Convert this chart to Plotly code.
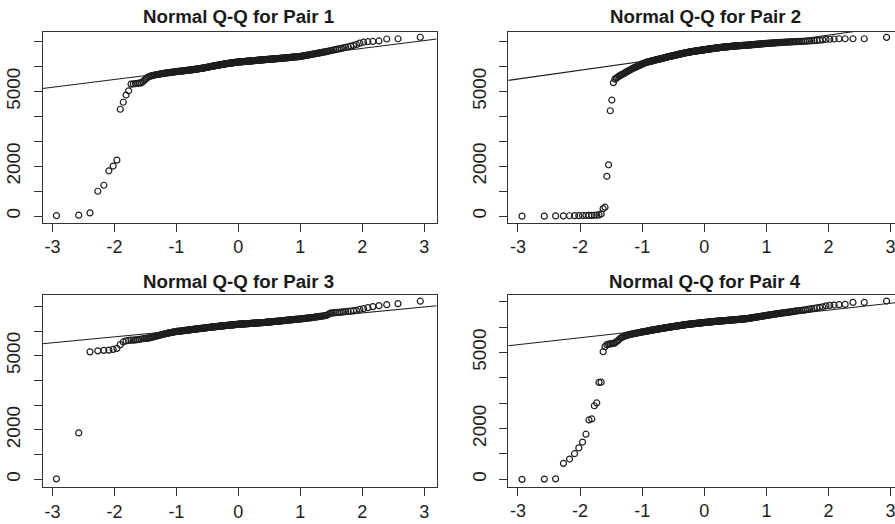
import plotly.graph_objects as go
from statistics import NormalDist

# ---------------- data (sorted sample values) ----------------
pair1 = [20, 40, 130, 1000, 1240, 1820, 2010, 2250, 4290, 4570,
         4860, 5030, 5300, 5310, 5320, 5330, 5340, 5350, 5400, 5460,
         5520, 5570, 5600, 5620, 5640, 5650, 5665, 5675, 5685, 5690,
         5698, 5706, 5714, 5722, 5730, 5736, 5742, 5748, 5754, 5760,
         5765, 5770, 5775, 5780, 5785, 5790, 5795, 5800, 5804, 5807,
         5811, 5814, 5818, 5821, 5825, 5829, 5833, 5837, 5841, 5845,
         5848, 5851, 5854, 5857, 5860, 5864, 5868, 5872, 5876, 5880,
         5884, 5888, 5892, 5896, 5900, 5904, 5908, 5912, 5916, 5920,
         5924, 5928, 5932, 5936, 5940, 5944, 5948, 5952, 5956, 5960,
         5965, 5970, 5975, 5980, 5985, 5990, 5995, 6000, 6005, 6010,
         6014, 6018, 6022, 6026, 6030, 6034, 6038, 6042, 6046, 6050,
         6054, 6058, 6062, 6066, 6070, 6074, 6078, 6082, 6086, 6090,
         6094, 6098, 6102, 6106, 6110, 6113, 6116, 6119, 6122, 6125,
         6128, 6131, 6134, 6137, 6140, 6143, 6146, 6149, 6152, 6155,
         6158, 6161, 6164, 6167, 6170, 6173, 6176, 6179, 6182, 6185,
         6186, 6188, 6190, 6192, 6194, 6195, 6197, 6199, 6201, 6203,
         6205, 6207, 6209, 6211, 6213, 6215, 6217, 6219, 6221, 6223,
         6224, 6226, 6228, 6230, 6232, 6233, 6235, 6237, 6239, 6241,
         6243, 6245, 6247, 6249, 6251, 6253, 6255, 6257, 6259, 6261,
         6263, 6265, 6267, 6269, 6271, 6273, 6275, 6277, 6279, 6281,
         6282, 6284, 6286, 6288, 6290, 6291, 6293, 6295, 6297, 6299,
         6301, 6303, 6305, 6307, 6309, 6311, 6313, 6315, 6317, 6319,
         6321, 6323, 6326, 6328, 6331, 6333, 6335, 6338, 6340, 6343,
         6345, 6347, 6350, 6352, 6355, 6357, 6360, 6363, 6366, 6369,
         6372, 6375, 6378, 6381, 6384, 6387, 6390, 6393, 6397, 6400,
         6403, 6406, 6410, 6416, 6423, 6430, 6436, 6443, 6450, 6456,
         6463, 6470, 6478, 6485, 6493, 6500, 6508, 6517, 6526, 6534,
         6543, 6552, 6561, 6571, 6581, 6592, 6603, 6615, 6628, 6641,
         6655, 6669, 6684, 6699, 6716, 6734, 6755, 6776, 6798, 6822,
         6850, 6890, 6945, 6980, 7000, 7010, 7030, 7110, 7120, 7180]

pair2 = [0, 0, 10, 10, 15, 20, 20, 25, 25, 30,
         30, 35, 40, 50, 90, 300, 360, 1600, 2060, 4230,
         4660, 5360, 5500, 5540, 5580, 5620, 5650, 5680, 5705, 5730,
         5760, 5790, 5815, 5840, 5860, 5885, 5910, 5930, 5948, 5965,
         5983, 6000, 6018, 6035, 6052, 6070, 6090, 6110, 6120, 6130,
         6143, 6156, 6170, 6178, 6186, 6194, 6202, 6210, 6218, 6225,
         6233, 6241, 6249, 6257, 6265, 6272, 6280, 6286, 6292, 6298,
         6305, 6312, 6318, 6324, 6330, 6337, 6344, 6351, 6358, 6365,
         6372, 6380, 6385, 6391, 6396, 6402, 6407, 6413, 6418, 6424,
         6429, 6435, 6440, 6445, 6451, 6456, 6462, 6467, 6473, 6478,
         6484, 6489, 6495, 6500, 6505, 6510, 6515, 6520, 6525, 6530,
         6535, 6540, 6545, 6550, 6555, 6559, 6563, 6567, 6571, 6575,
         6579, 6583, 6587, 6591, 6595, 6600, 6603, 6607, 6610, 6613,
         6617, 6620, 6623, 6627, 6630, 6633, 6637, 6640, 6643, 6646,
         6649, 6652, 6655, 6658, 6661, 6664, 6667, 6670, 6673, 6677,
         6680, 6683, 6686, 6689, 6692, 6695, 6698, 6701, 6704, 6707,
         6710, 6712, 6715, 6718, 6721, 6724, 6727, 6730, 6733, 6736,
         6739, 6742, 6745, 6748, 6750, 6753, 6756, 6758, 6761, 6764,
         6767, 6769, 6772, 6775, 6777, 6780, 6782, 6785, 6787, 6789,
         6791, 6794, 6796, 6798, 6800, 6803, 6805, 6807, 6809, 6812,
         6814, 6816, 6819, 6821, 6823, 6826, 6828, 6830, 6832, 6834,
         6835, 6837, 6839, 6840, 6842, 6843, 6845, 6847, 6848, 6850,
         6852, 6853, 6855, 6857, 6858, 6860, 6862, 6865, 6867, 6870,
         6872, 6875, 6877, 6880, 6882, 6885, 6887, 6890, 6893, 6895,
         6898, 6900, 6903, 6906, 6909, 6912, 6914, 6917, 6920, 6923,
         6925, 6928, 6930, 6933, 6935, 6938, 6941, 6943, 6946, 6949,
         6952, 6954, 6957, 6960, 6962, 6965, 6968, 6970, 6973, 6976,
         6979, 6982, 6985, 6988, 6990, 6993, 6995, 6998, 7001, 7004,
         7007, 7010, 7013, 7016, 7020, 7026, 7032, 7038, 7044, 7050,
         7062, 7075, 7090, 7100, 7110, 7120, 7120, 7120, 7120, 7175]

pair3 = [20, 1880, 5160, 5200, 5220, 5230, 5260, 5300, 5450, 5560,
         5600, 5620, 5630, 5635, 5640, 5650, 5665, 5680, 5690, 5700,
         5705, 5715, 5725, 5738, 5750, 5765, 5780, 5793, 5806, 5820,
         5832, 5844, 5856, 5868, 5880, 5889, 5898, 5907, 5916, 5925,
         5932, 5940, 5947, 5955, 5962, 5970, 5977, 5985, 5988, 5990,
         5994, 5998, 6002, 6006, 6010, 6014, 6018, 6022, 6026, 6030,
         6034, 6037, 6041, 6045, 6048, 6052, 6056, 6059, 6063, 6067,
         6070, 6074, 6078, 6081, 6085, 6088, 6091, 6094, 6097, 6100,
         6103, 6106, 6109, 6112, 6115, 6118, 6121, 6124, 6127, 6130,
         6133, 6136, 6139, 6142, 6145, 6148, 6151, 6154, 6157, 6160,
         6162, 6165, 6167, 6170, 6172, 6175, 6177, 6180, 6182, 6185,
         6187, 6190, 6192, 6195, 6197, 6200, 6202, 6205, 6207, 6210,
         6212, 6214, 6216, 6219, 6221, 6223, 6225, 6227, 6229, 6232,
         6234, 6236, 6238, 6240, 6242, 6245, 6247, 6249, 6251, 6253,
         6255, 6258, 6260, 6262, 6264, 6266, 6268, 6271, 6273, 6275,
         6276, 6278, 6279, 6281, 6282, 6283, 6285, 6286, 6288, 6289,
         6290, 6292, 6293, 6295, 6296, 6297, 6299, 6300, 6302, 6303,
         6304, 6306, 6307, 6309, 6310, 6312, 6313, 6315, 6316, 6318,
         6320, 6321, 6323, 6324, 6326, 6328, 6329, 6331, 6332, 6334,
         6336, 6337, 6339, 6340, 6342, 6344, 6345, 6347, 6348, 6350,
         6352, 6354, 6357, 6359, 6361, 6364, 6366, 6368, 6371, 6373,
         6375, 6378, 6380, 6382, 6385, 6387, 6389, 6392, 6394, 6396,
         6398, 6401, 6403, 6405, 6408, 6410, 6413, 6416, 6419, 6422,
         6425, 6428, 6431, 6434, 6437, 6440, 6443, 6446, 6449, 6452,
         6455, 6458, 6461, 6464, 6467, 6470, 6473, 6476, 6479, 6482,
         6485, 6487, 6490, 6495, 6499, 6504, 6508, 6513, 6518, 6522,
         6527, 6532, 6536, 6541, 6545, 6550, 6557, 6564, 6571, 6578,
         6585, 6592, 6599, 6606, 6613, 6620, 6635, 6650, 6700, 6730,
         6736, 6742, 6748, 6754, 6760, 6770, 6780, 6790, 6800, 6813,
         6826, 6840, 6880, 6910, 6950, 6990, 7030, 7070, 7110, 7210]

pair4 = [0, 10, 20, 630, 800, 1010, 1240, 1470, 1780, 2340,
         2380, 2900, 3010, 3820, 3830, 5030, 5230, 5310, 5330, 5340,
         5350, 5360, 5380, 5420, 5460, 5510, 5560, 5590, 5615, 5640,
         5655, 5670, 5683, 5697, 5710, 5718, 5726, 5734, 5742, 5750,
         5757, 5765, 5772, 5780, 5787, 5795, 5802, 5810, 5814, 5818,
         5824, 5830, 5837, 5843, 5849, 5855, 5862, 5868, 5874, 5880,
         5885, 5889, 5894, 5899, 5903, 5908, 5913, 5917, 5922, 5927,
         5931, 5936, 5941, 5945, 5950, 5954, 5958, 5962, 5966, 5970,
         5974, 5978, 5982, 5986, 5990, 5994, 5998, 6002, 6006, 6010,
         6014, 6017, 6021, 6024, 6028, 6031, 6035, 6038, 6042, 6045,
         6048, 6052, 6055, 6058, 6061, 6065, 6068, 6071, 6075, 6078,
         6081, 6084, 6087, 6091, 6094, 6097, 6100, 6104, 6107, 6110,
         6112, 6115, 6117, 6119, 6122, 6124, 6126, 6129, 6131, 6133,
         6136, 6138, 6140, 6143, 6145, 6147, 6150, 6152, 6154, 6157,
         6159, 6161, 6164, 6166, 6168, 6171, 6173, 6175, 6178, 6180,
         6182, 6184, 6186, 6188, 6190, 6192, 6194, 6196, 6198, 6200,
         6202, 6204, 6206, 6208, 6210, 6212, 6214, 6216, 6218, 6220,
         6222, 6224, 6226, 6228, 6230, 6232, 6234, 6236, 6238, 6239,
         6241, 6243, 6245, 6246, 6248, 6250, 6252, 6254, 6255, 6257,
         6259, 6261, 6263, 6264, 6266, 6268, 6270, 6272, 6273, 6275,
         6277, 6279, 6281, 6283, 6285, 6288, 6290, 6292, 6294, 6296,
         6298, 6300, 6302, 6304, 6307, 6309, 6311, 6313, 6315, 6317,
         6319, 6321, 6323, 6326, 6328, 6330, 6334, 6339, 6343, 6347,
         6352, 6356, 6360, 6365, 6369, 6373, 6378, 6382, 6386, 6391,
         6395, 6400, 6406, 6411, 6417, 6422, 6427, 6433, 6438, 6444,
         6449, 6454, 6460, 6466, 6471, 6477, 6483, 6489, 6494, 6500,
         6506, 6512, 6518, 6523, 6529, 6535, 6541, 6548, 6554, 6561,
         6567, 6574, 6580, 6587, 6593, 6600, 6609, 6618, 6627, 6636,
         6644, 6653, 6662, 6671, 6680, 6695, 6710, 6725, 6740, 6760,
         6780, 6800, 6840, 6855, 6868, 6882, 6895, 6974, 6974, 7026]

titles = ["Normal Q-Q for Pair 1", "Normal Q-Q for Pair 2",
          "Normal Q-Q for Pair 3", "Normal Q-Q for Pair 4"]
line_intercepts = [6110, 6560, 6250, 6125]   # reference (qq) line
line_slopes = [312, 352, 242, 272]
x_tickvals = [-3, -2, -1, 0, 1, 2, 3]
x_ticktext = ["-3", "-2", "-1", "0", "1", "2", "3"]
y_tickvals = [0, 1000, 2000, 3000, 4000, 5000, 6000, 7000]
y_ticktext = ["0", "", "2000", "", "", "5000", "", ""]

samples = [pair1, pair2, pair3, pair4]

# ---------------- layout geometry (pixels) ----------------
W, H = 895, 524
boxes = [(42.5, 436.7, 31.7, 222.5), (508.3, 895.0, 31.7, 222.5),
         (42.5, 436.7, 295.0, 487.0), (508.3, 895.0, 295.0, 486.7)]
title_cx = [238.5, 705.0, 238.5, 705.0]
title_cy = [16.7, 16.7, 281.0, 281.0]
xranges = [[-3.16, 3.20], [-3.156, 3.071], [-3.16, 3.20], [-3.156, 3.071]]
yranges = [[-255, 7402], [-255, 7402], [-310, 7460], [-290, 7265]]

INK = "#1e1e1e"
FONT = "Liberation Sans, Arial, Helvetica, sans-serif"

fig = go.Figure()
nd = NormalDist()
annotations = []
for k in range(4):
    y = sorted(samples[k])
    n = len(y)
    a = 0.5 if n > 10 else 3 / 8
    theo = [nd.inv_cdf((i + 1 - a) / (n + 1 - 2 * a)) for i in range(n)]
    ax = "" if k == 0 else str(k + 1)
    fig.add_trace(go.Scatter(
        x=theo, y=y, mode="markers", xaxis="x" + ax, yaxis="y" + ax,
        marker=dict(symbol="circle-open", size=6, color=INK, line=dict(width=1.2, color=INK)),
        showlegend=False, hoverinfo="x+y"))
    lx = xranges[k]
    fig.add_trace(go.Scatter(
        x=lx, y=[line_intercepts[k] + line_slopes[k] * v for v in lx],
        mode="lines", xaxis="x" + ax, yaxis="y" + ax,
        line=dict(color=INK, width=1.1), showlegend=False, hoverinfo="skip"))

    x0, x1, y0, y1 = boxes[k]
    right_side = k in (1, 3)
    xa = dict(domain=[x0 / W, x1 / W], range=xranges[k], anchor="y" + ax,
              showline=True, mirror=True, linecolor="#333", linewidth=1,
              ticks="outside", ticklen=8, tickwidth=1, tickcolor="#333",
              tickvals=x_tickvals, ticktext=x_ticktext, showgrid=False, zeroline=False,
              tickfont=dict(family=FONT, size=18, color="#1e1e1e"), ticklabelstandoff=0,
              ticklabeloverflow="allow", automargin=False, fixedrange=True)
    ya = dict(domain=[1 - y1 / H, 1 - y0 / H], range=yranges[k], anchor="x" + ax,
              showline=True, mirror=(False if right_side else True), linecolor="#333", linewidth=1,
              ticks="outside", ticklen=8, tickwidth=1, tickcolor="#333",
              tickvals=y_tickvals, ticktext=y_ticktext, tickangle=-90, showgrid=False, zeroline=False,
              tickfont=dict(family=FONT, size=19, color="#1e1e1e"), ticklabelstandoff=6,
              ticklabeloverflow="allow", automargin=False, fixedrange=True)
    fig.update_layout(**{"xaxis" + ax: xa, "yaxis" + ax: ya})
    annotations.append(dict(text="<b>" + titles[k] + "</b>", xref="paper", yref="paper",
                            x=title_cx[k] / W, y=1 - title_cy[k] / H, xanchor="center", yanchor="middle",
                            showarrow=False, font=dict(family=FONT, size=18.7, color="#1a1a1a")))

fig.update_layout(width=W, height=H, margin=dict(l=0, r=0, t=0, b=0, pad=0),
                  paper_bgcolor="white", plot_bgcolor="white", annotations=annotations,
                  showlegend=False)
fig.write_html("out.html", config={"displayModeBar": False, "staticPlot": True},
               post_script="document.body.style.margin='0';document.body.style.overflow='hidden';")
